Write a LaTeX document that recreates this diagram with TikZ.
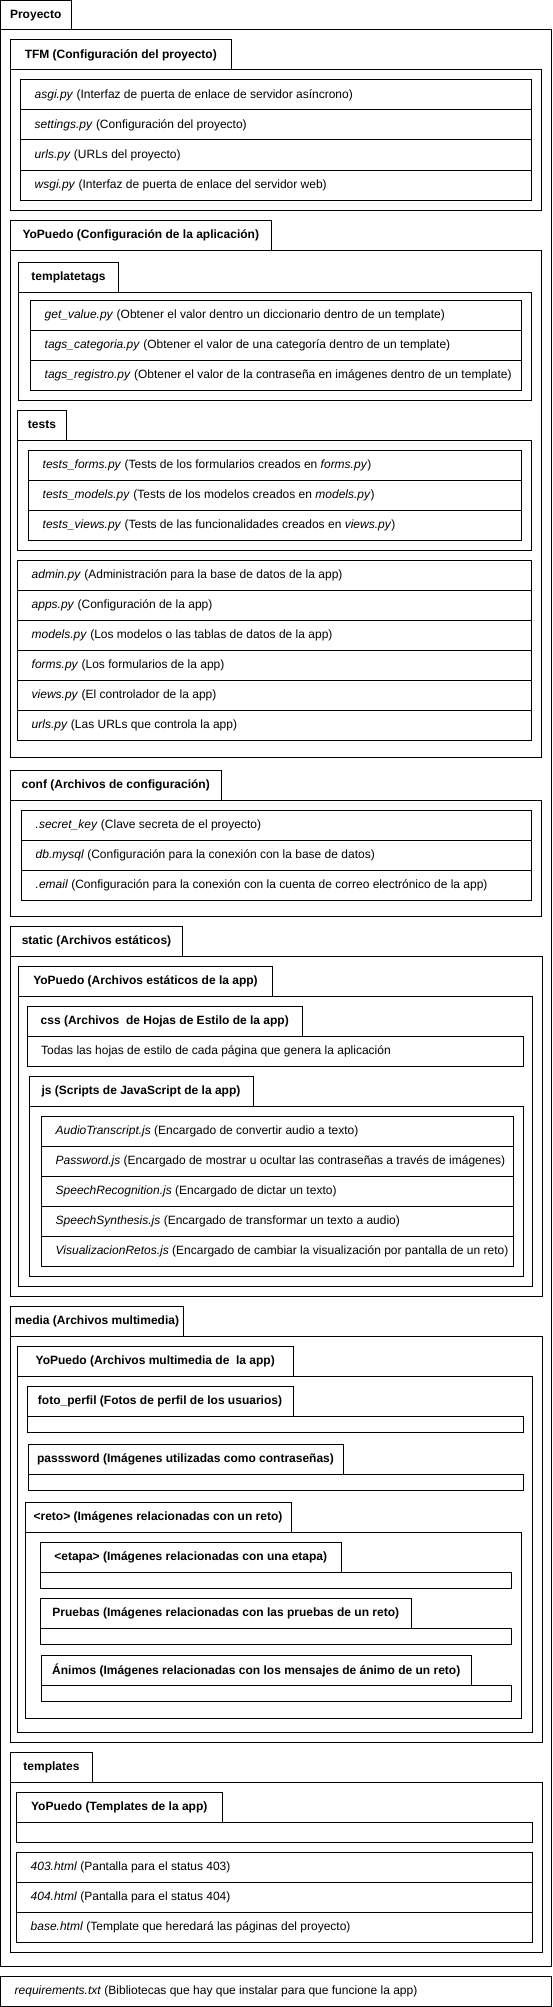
\documentclass[tikz,border=0pt]{standalone}
\usepackage{fontspec}
\setmainfont{Liberation Sans}
\newcommand\fBox[5]{\node[fbox, anchor=north west, minimum width={(#4-#2)*1pt}, minimum height={(#5-#3)*1pt}] (#1) at (#2,#3) {};}
\newcommand\fTab[6]{\node[fbox, font=\fontsize{12}{14}\selectfont\bfseries, anchor=north west, minimum width={(#4-#2)*1pt}, minimum height={(#5-#3)*1pt}] (#1) at (#2,#3) {#6};}
\newcommand\fRow[6]{\node[fbox, anchor=north west, minimum width={(#4-#2)*1pt}, minimum height={(#5-#3)*1pt}] (#1) at (#2,#3) {};
  \node[rowtext] (#1t) at ([xshift=14pt]#1.west) {#6};}
\begin{document}
\begin{tikzpicture}[x=1pt,y=-1pt,
  fbox/.style={draw=black, line width=1pt, inner sep=0pt, outer sep=0pt},
  rowtext/.style={anchor=west, inner sep=0pt, font=\fontsize{12}{14}\selectfont}]
\fill[white] (0,0) rectangle (552,2007);
\useasboundingbox (0,0) rectangle (552,2007);
% Proyecto
\fTab{ptab}{0.5}{0.5}{71}{30}{Proyecto}
\fBox{pbox}{0.5}{30}{551}{1966}
% TFM
\fTab{tfmtab}{10.5}{40}{231}{70}{TFM (Configuración del proyecto)}
\fBox{tfmbox}{10.5}{70}{541.5}{210}
\fRow{tfm1}{20.5}{80}{531.5}{110}{\textit{asgi.py} (Interfaz de puerta de enlace de servidor asíncrono)}
\fRow{tfm2}{20.5}{110}{531.5}{140}{\textit{settings.py} (Configuración del proyecto)}
\fRow{tfm3}{20.5}{140}{531.5}{170}{\textit{urls.py} (URLs del proyecto)}
\fRow{tfm4}{20.5}{170}{531.5}{200}{\textit{wsgi.py} (Interfaz de puerta de enlace del servidor web)}
% YoPuedo config
\fTab{apptab}{10.5}{220}{271}{250}{YoPuedo (Configuración de la aplicación)}
\fBox{appbox}{10.5}{250}{541.5}{757}
\fTab{tttab}{18.5}{262}{118.5}{292}{templatetags}
\fBox{ttbox}{18.5}{292}{531.5}{400}
\fRow{tt1}{30.5}{300}{521.5}{330}{\textit{get\_value.py} (Obtener el valor dentro un diccionario dentro de un template)}
\fRow{tt2}{30.5}{330}{521.5}{360}{\textit{tags\_categoria.py} (Obtener el valor de una categoría dentro de un template)}
\fRow{tt3}{30.5}{360}{521.5}{390}{\textit{tags\_registro.py} (Obtener el valor de la contraseña en imágenes dentro de un template)}
\fTab{tstab}{17.5}{410}{66.5}{440}{tests}
\fBox{tsbox}{17.5}{440}{531.5}{550}
\fRow{ts1}{28.5}{450}{521.5}{480}{\textit{tests\_forms.py} (Tests de los formularios creados en \textit{forms.py})}
\fRow{ts2}{28.5}{480}{521.5}{510}{\textit{tests\_models.py} (Tests de los modelos creados en \textit{models.py})}
\fRow{ts3}{28.5}{510}{521.5}{540}{\textit{tests\_views.py} (Tests de las funcionalidades creados en \textit{views.py})}
\fRow{ap1}{17.5}{560}{531.5}{590}{\textit{admin.py} (Administración para la base de datos de la app)}
\fRow{ap2}{17.5}{590}{531.5}{620}{\textit{apps.py} (Configuración de la app)}
\fRow{ap3}{17.5}{620}{531.5}{650}{\textit{models.py} (Los modelos o las tablas de datos de la app)}
\fRow{ap4}{17.5}{650}{531.5}{680}{\textit{forms.py} (Los formularios de la app)}
\fRow{ap5}{17.5}{680}{531.5}{710}{\textit{views.py} (El controlador de la app)}
\fRow{ap6}{17.5}{710}{531.5}{740}{\textit{urls.py} (Las URLs que controla la app)}
% conf
\fTab{cftab}{10.5}{770}{221}{800}{conf (Archivos de configuración)}
\fBox{cfbox}{10.5}{800}{541.5}{916.5}
\fRow{cf1}{21.5}{810.5}{531.5}{840.5}{\textit{.secret\_key} (Clave secreta de el proyecto)}
\fRow{cf2}{21.5}{840.5}{531.5}{870.5}{\textit{db.mysql} (Configuración para la conexión con la base de datos)}
\fRow{cf3}{21.5}{870.5}{531.5}{900.5}{\textit{.email} (Configuración para la conexión con la cuenta de correo electrónico de la app)}
% static
\fTab{sttab}{10.5}{926}{182.5}{956}{static (Archivos estáticos)}
\fBox{stbox}{10.5}{956}{542.5}{1296.5}
\fTab{sytab}{18.5}{966}{272.5}{996}{YoPuedo (Archivos estáticos de la app)}
\fBox{sybox}{18.5}{996}{532.5}{1286.5}
\fTab{csstab}{27}{1006.5}{302.5}{1036}{css (Archivos~ de Hojas de Estilo de la app)}
\fRow{css1}{27}{1036}{523.5}{1066}{Todas las hojas de estilo de cada página que genera la aplicación}
\fTab{jstab}{29}{1076}{253}{1106}{js (Scripts de JavaScript de la app)}
\fBox{jsbox}{29}{1106}{523.5}{1276}
\fRow{js1}{41.5}{1116.5}{513}{1146.5}{\textit{AudioTranscript.js} (Encargado de convertir audio a texto)}
\fRow{js2}{41.5}{1146.5}{513}{1176.5}{\textit{Password.js} (Encargado de mostrar u ocultar las contraseñas a través de imágenes)}
\fRow{js3}{41.5}{1176.5}{513}{1206.5}{\textit{SpeechRecognition.js} (Encargado de dictar un texto)}
\fRow{js4}{41.5}{1206.5}{513}{1236.5}{\textit{SpeechSynthesis.js} (Encargado de transformar un texto a audio)}
\fRow{js5}{41.5}{1236.5}{513}{1266.5}{\textit{VisualizacionRetos.js} (Encargado de cambiar la visualización por pantalla de un reto)}
% media
\fTab{mdtab}{10.5}{1306}{183.5}{1336}{media (Archivos multimedia)}
\fBox{mdbox}{10.5}{1336}{542.5}{1742.5}
\fTab{mytab}{17.5}{1346}{293}{1376}{YoPuedo (Archivos multimedia de~ la app)}
\fBox{mybox}{17.5}{1376}{532.5}{1732.5}
\fTab{fptab}{27}{1386}{293}{1416}{foto\_perfil (Fotos de perfil de los usuarios)}
\fBox{fpbox}{27}{1416}{523}{1432}
\fTab{pwtab}{28}{1444}{343}{1474}{passsword (Imágenes utilizadas como contraseñas)}
\fBox{pwbox}{28}{1474}{523}{1490}
\fTab{rttab}{25}{1502}{291}{1532}{<reto> (Imágenes relacionadas con un reto)}
\fBox{rtbox}{25}{1532}{521.5}{1718}
\fTab{ettab}{40.5}{1542}{341}{1572}{<etapa> (Imágenes relacionadas con una etapa)}
\fBox{etbox}{40.5}{1572}{511.5}{1588}
\fTab{prtab}{40.5}{1598}{411}{1628}{Pruebas (Imágenes relacionadas con las pruebas de un reto)}
\fBox{prbox}{40.5}{1628}{511.5}{1644}
\fTab{antab}{41.5}{1655}{471}{1685}{Ánimos (Imágenes relacionadas con los mensajes de ánimo de un reto)}
\fBox{anbox}{41.5}{1685}{511.5}{1701}
% templates
\fTab{tptab}{10.5}{1752}{92.5}{1782}{templates}
\fBox{tpbox}{10.5}{1782}{542.5}{1952}
\fTab{tytab}{16.5}{1792}{222}{1822}{YoPuedo (Templates de la app)}
\fBox{tybox}{16.5}{1822}{532.5}{1842}
\fRow{tp1}{16.5}{1852}{532.5}{1882}{\textit{403.html} (Pantalla para el status 403)}
\fRow{tp2}{16.5}{1882}{532.5}{1912}{\textit{404.html} (Pantalla para el status 404)}
\fRow{tp3}{16.5}{1912}{532.5}{1942}{\textit{base.html} (Template que heredará las páginas del proyecto)}
% requirements
\fRow{req}{0.5}{1976.5}{551}{2006}{\textit{requirements.txt} (Bibliotecas que hay que instalar para que funcione la app)}
\end{tikzpicture}
\end{document}
